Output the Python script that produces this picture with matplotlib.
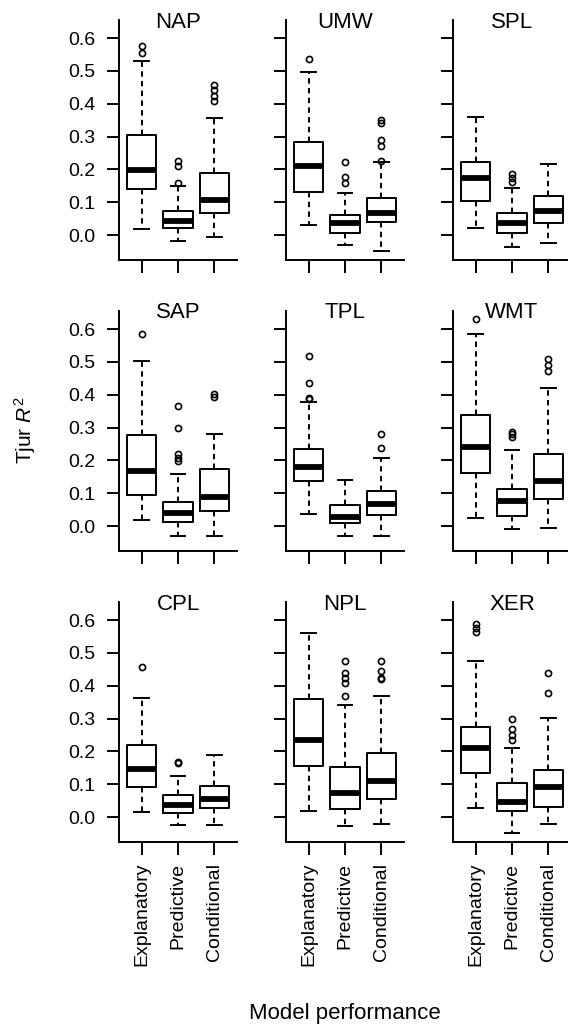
import matplotlib
matplotlib.use("Agg")
import matplotlib.pyplot as plt

plt.rcParams['font.family'] = ['Liberation Sans', 'DejaVu Sans']
plt.rcParams['mathtext.fontset'] = 'custom'
plt.rcParams['mathtext.rm'] = 'Liberation Sans'
plt.rcParams['mathtext.it'] = 'Liberation Sans:italic'

sites = ["NAP", "UMW", "SPL", "SAP", "TPL", "WMT", "CPL", "NPL", "XER"]
methods = ["Explanatory", "Predictive", "Conditional"]
y_ticks = [0.0, 0.1, 0.2, 0.3, 0.4, 0.5, 0.6]

whis_lo = [[0.019, -0.017, -0.005], [0.031, -0.031, -0.048], [0.020, -0.036, -0.023],
           [0.018, -0.030, -0.030], [0.036, -0.031, -0.031], [0.025, -0.010, -0.005],
           [0.015, -0.023, -0.025], [0.019, -0.026, -0.021], [0.029, -0.050, -0.021]]
q1 = [[0.140, 0.022, 0.066], [0.130, 0.005, 0.039], [0.104, 0.005, 0.038],
      [0.094, 0.011, 0.046], [0.138, 0.009, 0.033], [0.163, 0.030, 0.083],
      [0.093, 0.011, 0.028], [0.155, 0.024, 0.055], [0.134, 0.019, 0.032]]
median = [[0.198, 0.043, 0.107], [0.209, 0.036, 0.066], [0.173, 0.036, 0.074],
          [0.168, 0.039, 0.087], [0.180, 0.027, 0.066], [0.240, 0.075, 0.136],
          [0.147, 0.037, 0.055], [0.236, 0.074, 0.111], [0.209, 0.046, 0.090]]
q3 = [[0.305, 0.073, 0.188], [0.283, 0.061, 0.112], [0.222, 0.068, 0.119],
      [0.277, 0.072, 0.173], [0.235, 0.065, 0.107], [0.337, 0.113, 0.218],
      [0.220, 0.068, 0.094], [0.360, 0.153, 0.195], [0.274, 0.103, 0.144]]
whis_hi = [[0.531, 0.150, 0.356], [0.498, 0.127, 0.224], [0.361, 0.142, 0.217],
           [0.503, 0.160, 0.280], [0.378, 0.141, 0.207], [0.584, 0.232, 0.419],
           [0.364, 0.125, 0.189], [0.560, 0.341, 0.370], [0.476, 0.211, 0.303]]
outliers = [
    [[0.556, 0.575], [0.160, 0.209, 0.227], [0.407, 0.422, 0.443, 0.458]],
    [[0.537], [0.158, 0.178, 0.221], [0.226, 0.270, 0.288, 0.341, 0.349]],
    [[], [0.163, 0.173, 0.186], []],
    [[0.584], [0.199, 0.206, 0.219, 0.299, 0.365], [0.394, 0.401]],
    [[0.386, 0.391, 0.437, 0.518], [], [0.239, 0.281]],
    [[0.631], [0.271, 0.279, 0.286], [0.471, 0.490, 0.508]],
    [[0.457], [0.164, 0.167], []],
    [[], [0.370, 0.407, 0.424, 0.440, 0.474], [0.419, 0.424, 0.446, 0.476]],
    [[0.565, 0.577, 0.587], [0.234, 0.250, 0.267, 0.300], [0.379, 0.438]],
]

W, H = 568, 1027
fig = plt.figure(figsize=(W / 100, H / 100), dpi=100)

col_left = [119, 286, 453]
row_top = [20, 311, 602]
ax_w, ax_h = 118, 240

lw = 1.4
for i, site in enumerate(sites):
    r, c = divmod(i, 3)
    ax = fig.add_axes([col_left[c] / W, 1 - (row_top[r] + ax_h) / H, ax_w / W, ax_h / H])
    stats = []
    for j, m in enumerate(methods):
        stats.append(dict(med=median[i][j], q1=q1[i][j], q3=q3[i][j],
                          whislo=whis_lo[i][j], whishi=whis_hi[i][j],
                          fliers=outliers[i][j], label=m))
    ax.bxp(stats, positions=[1, 2, 3], widths=0.8, capwidths=0.4,
           boxprops=dict(color='black', linewidth=lw),
           medianprops=dict(color='black', linewidth=4.2, solid_capstyle='butt'),
           whiskerprops=dict(color='black', linewidth=lw, linestyle=(0, (2.8, 2.2))),
           capprops=dict(color='black', linewidth=lw),
           flierprops=dict(marker='o', markersize=4.4, markerfacecolor='none',
                           markeredgecolor='black', markeredgewidth=1.2))
    ax.set_xlim(0.38, 3.62)
    ax.set_ylim(-0.076, 0.655)
    ax.spines['top'].set_visible(False)
    ax.spines['right'].set_visible(False)
    ax.spines['left'].set_linewidth(1.4)
    ax.spines['bottom'].set_linewidth(1.4)
    ax.set_yticks(y_ticks)
    ax.set_xticks([1, 2, 3])
    ax.tick_params(axis='both', direction='out', length=9, width=1.4, labelsize=14, pad=8)
    ax.tick_params(axis='x', pad=6)
    if c == 0:
        ax.set_yticklabels([f"{v:.1f}" for v in y_ticks])
    else:
        ax.set_yticklabels([])
    if r == 2:
        ax.set_xticklabels(methods, rotation=90, ha='center', va='top')
    else:
        ax.set_xticklabels([])
    ax.text(0.5, 1 - 7.5 / ax_h, site, transform=ax.transAxes, ha='center',
            va='baseline', fontsize=16)

fig.text(25 / W, 1 - 430 / H, r"Tjur $R^2$", rotation=90, ha='center', va='center',
         fontsize=15)
fig.text(345 / W, 1 - 1014 / H, "Model performance", ha='center', va='center',
         fontsize=16)

fig.savefig("out.png", dpi=100)
